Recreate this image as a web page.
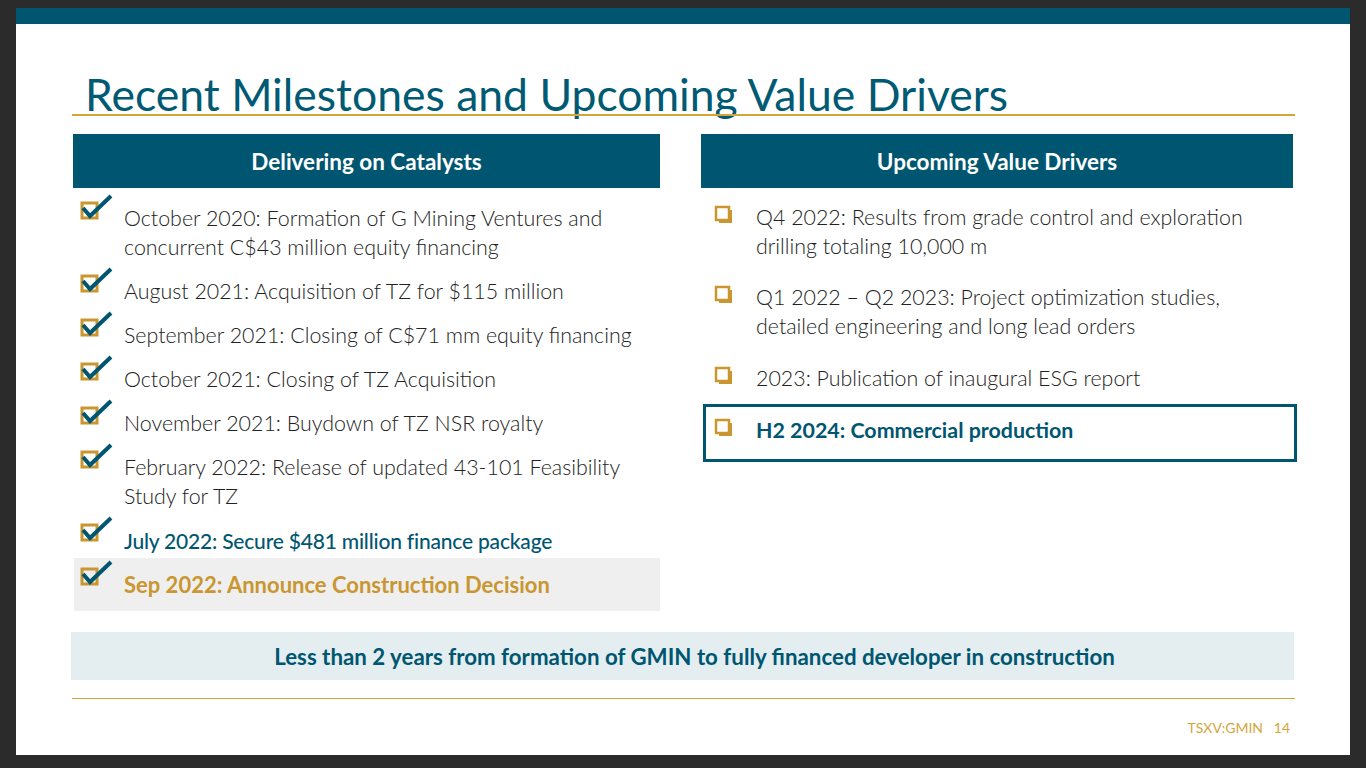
<!DOCTYPE html><html><head><meta charset="utf-8">
<script src="https://cdn.jsdelivr.net/npm/chart.js@4"></script>
<style>
body{margin:0;width:1366px;height:768px;background:#2b2b2b;font-family:Lato,sans-serif;overflow:hidden}
#slide{position:absolute;left:16px;top:8px;width:1334px;height:747px;background:#fff}
#bar{position:absolute;left:0;top:0;width:100%;height:16px;background:#005670}
#title{position:absolute;left:69px;top:59px;font-size:44.5px;color:#005a73;white-space:nowrap}
.gl{position:absolute;left:56px;width:1223px;height:2px;background:#d4a63a}
.hd{position:absolute;top:126px;height:54px;background:#005670;color:#fff;font-weight:bold;font-size:22.5px;display:flex;align-items:center;justify-content:center}
.it{position:absolute;font-size:21.4px;font-weight:300;color:#222;line-height:29px;white-space:nowrap}
.ck{position:absolute}
#ban{position:absolute;left:55px;top:624px;width:1223px;height:48px;background:#e4eef1;color:#005670;font-weight:bold;font-size:22.3px;display:flex;align-items:center;justify-content:center;box-sizing:border-box;padding-left:24px}
#ft{position:absolute;right:60px;top:711px;font-size:14px;color:#d4a63a}
</style></head><body>
<div id="slide"><div id="bar"></div>
<div id="title">Recent Milestones and Upcoming Value Drivers</div>
<div class="gl" style="top:106px"></div>
<div class="hd" style="left:57px;width:587px">Delivering on Catalysts</div>
<div class="hd" style="left:685px;width:592px">Upcoming Value Drivers</div>
<div style="position:absolute;left:58px;top:550px;width:586px;height:53px;background:#efefef"></div>
<div style="position:absolute;left:687px;top:396px;width:588px;height:52px;border:3px solid #005670"></div>
<div id="items"></div>
<div id="ban">Less than 2 years from formation of GMIN to fully financed developer in construction</div>
<div class="gl" style="top:690px;height:1px"></div>
<div id="ft">TSXV:GMIN&nbsp;&nbsp; 14</div>
</div>
<script>
const milestones=["October 2020: Formation of G Mining Ventures and<br>concurrent C$43 million equity financing","August 2021: Acquisition of TZ for $115 million","September 2021: Closing of C$71 mm equity financing","October 2021: Closing of TZ Acquisition","November 2021: Buydown of TZ NSR royalty","February 2022: Release of updated 43-101 Feasibility<br>Study for TZ","July 2022: Secure $481 million finance package","Sep 2022: Announce Construction Decision"];
const milestoneTops=[196,269,313,357,401,445,518,562];
const drivers=["Q4 2022: Results from grade control and exploration<br>drilling totaling 10,000 m","Q1 2022 – Q2 2023: Project optimization studies,<br>detailed engineering and long lead orders","2023: Publication of inaugural ESG report","H2 2024: Commercial production"];
const driverTops=[195,275,356,408];
const box=document.getElementById('items');let h='';
milestones.forEach((t,i)=>{const y=milestoneTops[i];
 let st=i==6?'color:#005670;font-weight:500;font-size:21px;letter-spacing:-0.2px':i==7?'color:#c9962f;font-weight:bold;font-size:22px':'';
 h+=`<div class="it" style="left:108px;top:${y}px;${st}">${t}</div>`;
 h+=`<svg class="ck" style="left:62px;top:${y-11}px" width="36" height="32"><rect x="4" y="10" width="15" height="15" fill="none" stroke="#c9962f" stroke-width="3"/><path d="M5 15 L12 23 L33 3" fill="none" stroke="#005670" stroke-width="4"/></svg>`;});
drivers.forEach((t,i)=>{const y=driverTops[i];
 let st=i==3?'color:#005670;font-weight:bold':'';
 h+=`<div class="it" style="left:740px;top:${y}px;${st}">${t}</div>`;
 h+=`<svg class="ck" style="left:698px;top:${y+2}px" width="20" height="20"><rect x="2" y="2" width="13" height="13" fill="none" stroke="#c9962f" stroke-width="2.5"/><path d="M5 17 H17 V5" fill="none" stroke="#c9962f" stroke-width="2"/></svg>`;});
box.innerHTML=h;
</script></body></html>
